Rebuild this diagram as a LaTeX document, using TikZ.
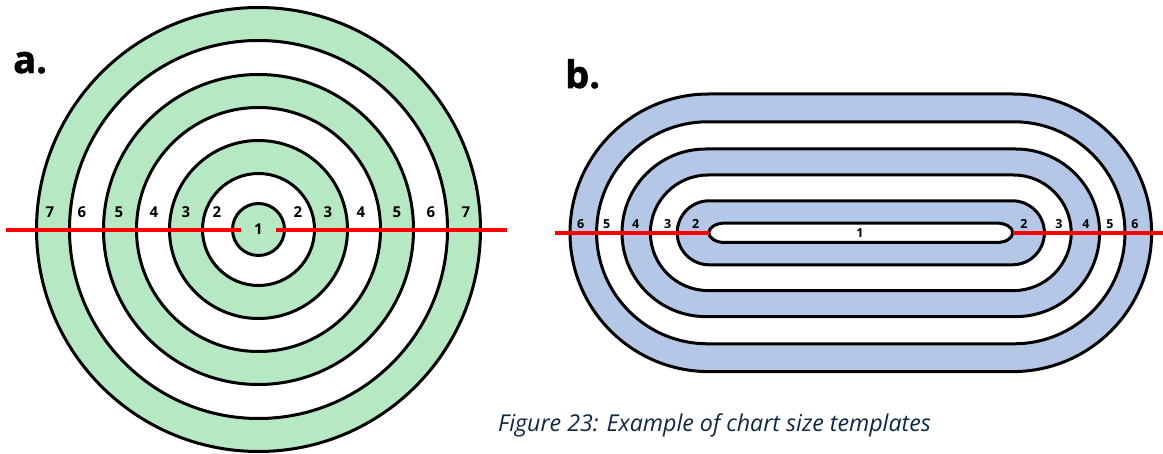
\documentclass[tikz,border=0pt]{standalone}
\usepackage{fontspec}
\setmainfont{Open Sans}
\newfontfamily\panelfont[BoldFeatures={FakeBold=1.5}]{Open Sans}
\definecolor{ringgreen}{RGB}{182,232,196}
\definecolor{ringblue}{RGB}{180,199,231}
\definecolor{capblue}{RGB}{14,40,65}
\definecolor{cutred}{RGB}{255,0,0}
\begin{document}
\begin{tikzpicture}[x=1pt,y=-1pt,
  ring/.style={draw=black,line width=3pt},
  cut/.style={draw=cutred,line width=4.5pt},
  biglab/.style={font=\fontsize{15}{15}\selectfont\bfseries,inner sep=0pt},
  smalllab/.style={font=\fontsize{12.5}{12.5}\selectfont\bfseries,inner sep=0pt},
  panel/.style={font=\fontsize{38}{38}\selectfont\panelfont\bfseries,inner sep=0pt,anchor=base west},
  captext/.style={font=\fontsize{23.2}{23.2}\selectfont\itshape,text=capblue,inner sep=0pt,anchor=base west}]
\useasboundingbox (0,0) rectangle (1163,454);
\fill[white] (0,0) rectangle (1163,454);
% ---- a. concentric circles
\foreach \r/\c in {222/ringgreen,189/white,155/ringgreen,122/white,89/ringgreen,56/white,26/ringgreen}
  \draw[ring,fill=\c] (258.5,229.5) circle[radius=\r];
\coordinate (aL1) at (6,230);
\coordinate (aL2) at (241,230);
\coordinate (aR1) at (276,230);
\coordinate (aR2) at (507,230);
\draw[cut] (aL1) -- (aL2);
\draw[cut] (aR1) -- (aR2);
\foreach \x/\t [count=\i] in {50/7,82/6,119/5,154/4,186/3,217/2}
  \node[biglab] (al\i) at (\x,212.5) {\t};
\foreach \x/\t [count=\i] in {298/2,328/3,361/4,397/5,431/6,466/7}
  \node[biglab] (ar\i) at (\x,212.5) {\t};
\node[biglab] (aone) at (258.5,229.5) {1};
% ---- b. stadium rings
\foreach \w/\h/\c in {290.8/138.8/ringblue,264.2/111/white,238.8/83.8/ringblue,210.4/57.8/white,183.6/32/ringblue}
  \draw[ring,fill=\c,rounded corners=\h pt] (860.8-\w,232.8-\h) rectangle (860.8+\w,232.8+\h);
\draw[ring,fill=white] (724.8,223.1) -- (996.8,223.1)
  arc[start angle=-90,end angle=90,x radius=16,y radius=9.7] -- (724.8,242.5)
  arc[start angle=90,end angle=270,x radius=16,y radius=9.7] -- cycle;
\coordinate (bL1) at (555,232.8);
\coordinate (bL2) at (709,232.8);
\coordinate (bR1) at (1012.7,232.8);
\coordinate (bR2) at (1163,232.8);
\draw[cut] (bL1) -- (bL2);
\draw[cut] (bR1) -- (bR2);
\foreach \x/\t [count=\i] in {580.7/6,606.7/5,635.7/4,667.7/3,695.7/2}
  \node[smalllab] (bl\i) at (\x,224) {\t};
\foreach \x/\t [count=\i] in {1024/2,1059/3,1086/4,1110/5,1135/6}
  \node[smalllab] (br\i) at (\x,224) {\t};
\node[smalllab] (bone) at (860,233) {1};
% ---- panel labels and caption
\node[panel] (pa) at (13,73) {a.};
\node[panel] (pb) at (565,88) {b.};
\node[captext] (cap) at (498,431.7) {Figure 23: Example of chart size templates};
\end{tikzpicture}
\end{document}
